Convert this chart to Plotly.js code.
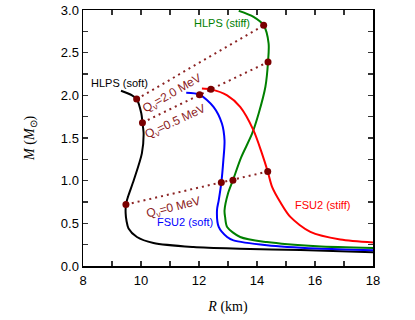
<!DOCTYPE html>
<html>
<head>
<meta charset="utf-8">
<script src="https://cdn.plot.ly/plotly-3.0.1.min.js"></script>
<style>html,body{margin:0;padding:0;background:#fff;}#chart{width:415px;height:320px;}</style>
</head>
<body>
<div id="chart"></div>
<script>
// HLPS (soft)
const hlpsSoftR = [9.31, 9.69, 9.85, 10.01, 10.05, 10.09, 10.03, 9.75, 9.55, 9.48, 9.47, 9.50, 9.57, 9.86, 10.43, 11.81, 13.4, 15.5, 18.0];
const hlpsSoftM = [2.053, 2.00, 1.956, 1.79, 1.68, 1.55, 1.32, 1.005, 0.81, 0.72, 0.62, 0.53, 0.44, 0.34, 0.27, 0.223, 0.203, 0.187, 0.16];
// FSU2 (soft)
const fsu2SoftR = [11.56, 12.02, 12.50, 12.79, 12.88, 12.84, 12.77, 12.68, 12.62, 12.68, 12.97, 13.19, 14.34, 16.07, 18.0];
const fsu2SoftM = [2.03, 2.008, 1.865, 1.67, 1.47, 1.24, 0.978, 0.77, 0.653, 0.458, 0.34, 0.30, 0.243, 0.204, 0.184];
// HLPS (stiff)
const hlpsStiffR = [13.37, 13.88, 14.23, 14.40, 14.38, 14.29, 14.06, 13.83, 13.45, 13.17, 13.00, 12.88, 12.90, 12.97, 13.42, 14.34, 16.07, 18.0];
const hlpsStiffM = [2.99, 2.92, 2.82, 2.61, 2.39, 2.10, 1.79, 1.55, 1.27, 1.005, 0.85, 0.65, 0.575, 0.458, 0.34, 0.28, 0.231, 0.211];
// FSU2 (stiff)
const fsu2StiffR = [12.10, 12.41, 12.97, 13.42, 13.88, 14.17, 14.37, 14.52, 14.80, 15.15, 15.84, 16.87, 18.0];
const fsu2StiffM = [2.08, 2.07, 2.00, 1.865, 1.59, 1.32, 1.107, 0.927, 0.75, 0.575, 0.40, 0.31, 0.275];
// Q_nu connecting points
const q20R = [9.85, 14.23];
const q20M = [1.956, 2.82];
const q05R = [10.05, 12.02, 12.41, 14.38];
const q05M = [1.68, 2.008, 2.07, 2.39];
const q00R = [9.48, 12.77, 13.17, 14.37];
const q00M = [0.72, 0.978, 1.005, 1.107];

const curveLabels = ["HLPS (soft)", "FSU2 (soft)", "HLPS (stiff)", "FSU2 (stiff)"];
const labelR = [9.27, 11.53, 12.80, 16.26];
const labelM = [2.14, 0.51, 2.85, 0.72];
const qLabels = ["Q<sub>ν</sub>=2.0 MeV", "Q<sub>ν</sub>=0.5 MeV", "Q<sub>ν</sub>=0 MeV"];
const qLabelR = [11.08, 11.2, 11.12];
const qLabelM = [2.01, 1.685, 0.68];
const qAngle = [-30, -25, -14];

const dotCol = '#7a0000';
const dashCol = '#8b2323';
function curve(x, y, c) {
  return {x: x, y: y, mode: 'lines', line: {color: c, width: 2, shape: 'spline', smoothing: 0.8}, hoverinfo: 'skip'};
}
function qline(x, y) {
  return {x: x, y: y, mode: 'lines+markers', line: {color: dashCol, width: 2, dash: '2px,4px'},
          marker: {color: dotCol, size: 7}, hoverinfo: 'skip'};
}
const traces = [
  curve(hlpsSoftR, hlpsSoftM, '#000000'),
  curve(fsu2SoftR, fsu2SoftM, '#0000ff'),
  curve(hlpsStiffR, hlpsStiffM, '#008000'),
  curve(fsu2StiffR, fsu2StiffM, '#ff0000'),
  qline(q20R, q20M), qline(q05R, q05M), qline(q00R, q00M)
];
const labelColors = ['#000000', '#0000ff', '#008000', '#ff0000'];
const annotations = [];
curveLabels.forEach((t, i) => annotations.push({x: labelR[i], y: labelM[i], text: t, showarrow: false,
  font: {family: 'Liberation Sans, Arial, sans-serif', size: 11, color: labelColors[i]}, xanchor: 'center', yanchor: 'middle'}));
qLabels.forEach((t, i) => annotations.push({x: qLabelR[i], y: qLabelM[i], text: t, showarrow: false, textangle: qAngle[i],
  font: {family: 'Liberation Sans, Arial, sans-serif', size: 12, color: '#8b1a1a'}, xanchor: 'center', yanchor: 'middle'}));
annotations.push({xref: 'paper', yref: 'paper', x: -0.183, y: 0.5, text: '<i>M</i> (<i>M</i><sub>⊙</sub>)',
  textangle: -90, showarrow: false, xanchor: 'center', yanchor: 'middle',
  font: {family: 'Liberation Serif, Times New Roman, serif', size: 14, color: '#000'}});

const axisCommon = {
  showgrid: false, zeroline: false, showline: true, linecolor: '#000', linewidth: 1.5,
  mirror: 'allticks', ticks: 'inside', ticklen: 5, tickwidth: 1.3, tickcolor: '#333',
  tickfont: {family: 'Liberation Sans, Arial, sans-serif', size: 13, color: '#000'}
};
const layout = {
  width: 415, height: 320,
  margin: {l: 83, r: 42, t: 10, b: 54},
  paper_bgcolor: '#fff', plot_bgcolor: '#fff',
  showlegend: false,
  xaxis: Object.assign({}, axisCommon, {range: [8, 18], dtick: 2, tick0: 8, ticklabelstandoff: 2,
    minor: {dtick: 1, ticks: 'inside', ticklen: 5, tickwidth: 1.3, tickcolor: '#333'},
    title: {text: '<i>R</i> (km)', font: {family: 'Liberation Serif, Times New Roman, serif', size: 14, color: '#000'}, standoff: 14}}),
  yaxis: Object.assign({}, axisCommon, {range: [0, 3], dtick: 0.5, tick0: 0, tickformat: '.1f',
    minor: {dtick: 0.25, ticks: 'inside', ticklen: 5, tickwidth: 1.3, tickcolor: '#333'}}),
  annotations: annotations
};
Plotly.newPlot('chart', traces, layout, {staticPlot: true, displayModeBar: false});
</script>
</body>
</html>
